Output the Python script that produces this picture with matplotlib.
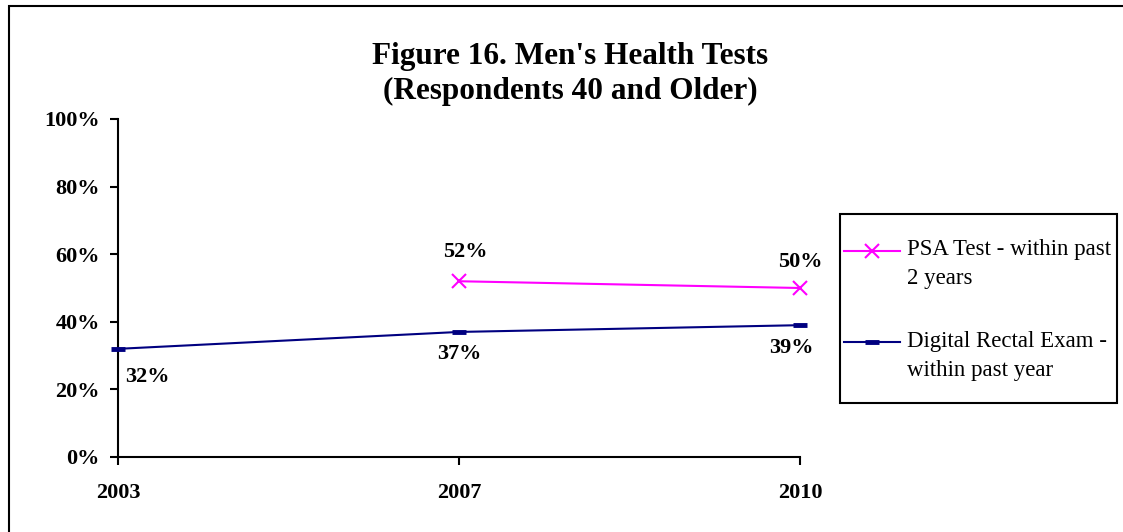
import matplotlib
matplotlib.use('Agg')
import matplotlib.pyplot as plt
from matplotlib.patches import Rectangle
from matplotlib.legend_handler import HandlerLine2D

years = ['2003', '2007', '2010']
psa = [None, 0.52, 0.50]
dre = [0.32, 0.37, 0.39]
psa_label = 'PSA Test - within past\n2 years'
dre_label = 'Digital Rectal Exam -\nwithin past year'

plt.rcParams['font.family'] = ['Liberation Serif', 'DejaVu Serif']


class FirstLineHandler(HandlerLine2D):
    # put the legend sample next to the first line of a two-line label
    def create_artists(self, legend, orig_handle, xdescent, ydescent,
                       width, height, fontsize, trans):
        arts = super().create_artists(legend, orig_handle, xdescent, ydescent,
                                      width, height, fontsize, trans)
        for a in arts:
            a.set_ydata([y + 9.5 for y in a.get_ydata()])
        return arts


fig = plt.figure(figsize=(11.23, 5.32), dpi=100)
ax = fig.add_axes([118/1123, 75/532, 682/1123, 338/532])

x = list(range(len(years)))
px = [i for i, v in zip(x, psa) if v is not None]
py = [v for v in psa if v is not None]

l1, = ax.plot(px, py, color='#FF00FF', lw=1.5, marker='x', ms=10, mew=1.5,
              label=psa_label, clip_on=False, zorder=3)
l2, = ax.plot(x, dre, color='#000080', lw=1.5, marker='_', ms=10, mew=3.5,
              label=dre_label, clip_on=False, zorder=3)

# data labels
psa_off = [None, (6, 29), (0, 26)]
for i, v in zip(px, py):
    ax.annotate(f'{v*100:.0f}%', (i, v), textcoords='offset pixels',
                xytext=psa_off[i], ha='center', va='center',
                fontsize=16, fontweight='bold')
dre_off = [(29, -28), (0, -22), (-9, -23)]
for i, v in enumerate(dre):
    ax.annotate(f'{v*100:.0f}%', (i, v), textcoords='offset pixels',
                xytext=dre_off[i], ha='center', va='center',
                fontsize=16, fontweight='bold')

ax.set_xlim(0, 2)
ax.set_ylim(0, 1)
ax.set_xticks(x)
ax.set_xticklabels(years)
ax.set_yticks([0, 0.2, 0.4, 0.6, 0.8, 1.0])
ax.set_yticklabels(['0%', '20%', '40%', '60%', '80%', '100%'])
for lab in ax.get_xticklabels() + ax.get_yticklabels():
    lab.set_fontweight('bold')
    lab.set_fontsize(16)
ax.tick_params(axis='both', direction='out', length=6, width=1.5,
               color='black')
ax.tick_params(axis='x', pad=13)
ax.tick_params(axis='y', pad=7)
for s in ['top', 'right']:
    ax.spines[s].set_visible(False)
for s in ['left', 'bottom']:
    ax.spines[s].set_linewidth(1.5)

fig.text(0.508, 1 - 74/532, "Figure 16. Men's Health Tests\n(Respondents 40 and Older)",
         ha='center', va='center', fontsize=22.5, fontweight='bold',
         linespacing=1.25)

# legend (frame drawn separately so the box matches the original size)
leg = fig.legend(handles=[l1, l2], loc='center left',
                 bbox_to_anchor=(844/1123, 1 - 310/532),
                 fontsize=16.5, frameon=False, borderpad=0, labelspacing=1.8,
                 handlelength=2.45, handletextpad=0.3, borderaxespad=0,
                 handler_map={l1: FirstLineHandler(), l2: FirstLineHandler()})
for t in leg.get_texts():
    t.set_linespacing(1.5)
fig.add_artist(Rectangle((840/1123, 1 - 403/532), 277/1123, 189/532,
                         transform=fig.transFigure, fill=False,
                         edgecolor='black', lw=1.5))

# outer border
fig.add_artist(Rectangle((9/1123, -0.05), 1.2, 1 - 6/532 + 0.05,
                         transform=fig.transFigure, fill=False,
                         edgecolor='black', lw=1.5))

fig.savefig('out.png', dpi=100)
